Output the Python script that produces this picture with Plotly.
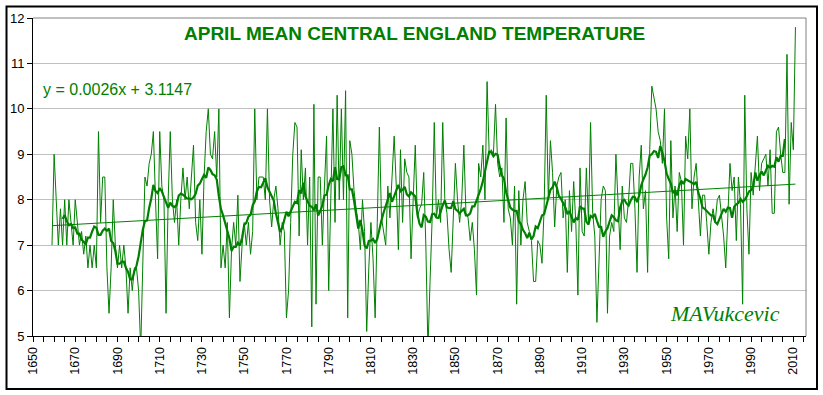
import pandas as pd
import plotly.graph_objects as go

# ---------------- data ----------------
START_YEAR = 1659
APRIL_TEMP = [
    7.0,                                                   # 1659
    9.0, 8.0, 7.0, 7.8, 7.0, 8.0, 7.0, 8.0, 7.5, 7.0,      # 1660s
    8.0, 7.5, 7.0, 7.3, 6.8, 7.2, 6.5, 7.0, 6.5, 7.0,      # 1670s
    6.5, 9.5, 7.5, 8.5, 8.5, 6.5, 5.5, 6.5, 8.0, 7.0,      # 1680s
    6.5, 7.0, 6.5, 7.0, 6.5, 5.5, 6.5, 6.0, 6.5, 6.5,      # 1690s
    6.0, 4.7, 7.0, 8.5, 8.3, 8.8, 9.0, 9.5, 8.0, 6.7,      # 1700s
    9.5, 8.3, 8.0, 5.5, 8.0, 9.5, 8.0, 7.5, 8.0, 7.0,      # 1710s
    8.0, 8.7, 8.0, 8.5, 7.8, 8.5, 9.2, 7.5, 7.1, 8.0,      # 1720s
    6.8, 8.5, 9.5, 10.0, 9.0, 8.9, 9.5, 8.5, 10.0, 6.5,    # 1730s
    7.0, 6.5, 7.5, 5.4, 6.9, 7.5, 7.0, 8.1, 6.2, 7.0,      # 1740s
    7.5, 7.0, 7.5, 6.8, 7.3, 10.0, 8.0, 8.5, 8.5, 8.5,     # 1750s
    8.0, 10.0, 8.0, 7.4, 8.0, 8.3, 7.8, 7.0, 7.5, 7.3,     # 1760s
    5.4, 6.0, 7.5, 9.0, 9.7, 9.6, 7.2, 9.1, 8.0, 8.7,      # 1770s
    7.0, 8.5, 5.2, 10.1, 5.7, 8.5, 8.5, 7.0, 8.3, 9.4,     # 1780s
    6.0, 8.0, 10.0, 7.5, 10.3, 8.0, 10.0, 8.0, 10.4, 5.4,  # 1790s
    9.3, 9.0, 8.2, 7.8, 7.5, 6.9, 8.0, 7.3, 5.1, 6.5,      # 1800s
    7.5, 6.7, 5.4, 7.5, 9.6, 7.6, 7.3, 7.0, 8.3, 7.6,      # 1810s
    8.5, 9.4, 8.3, 6.9, 9.1, 7.5, 8.9, 8.6, 8.5, 6.7,      # 1820s
    8.0, 9.2, 7.6, 7.8, 7.9, 8.6, 7.0, 4.7, 6.2, 7.6,      # 1830s
    9.7, 7.6, 8.0, 7.5, 9.7, 8.0, 7.7, 6.9, 6.4, 7.5,      # 1840s
    8.8, 8.0, 7.5, 8.0, 9.2, 7.7, 7.6, 7.1, 7.5, 6.9,      # 1850s
    5.9, 8.8, 8.5, 9.2, 8.0, 10.6, 9.0, 9.1, 9.0, 10.1,    # 1860s
    8.8, 8.5, 8.7, 7.5, 9.8, 7.8, 7.6, 7.0, 8.3, 5.7,      # 1870s
    8.2, 7.0, 8.0, 8.4, 7.5, 7.3, 7.1, 6.2, 6.2, 7.1,      # 1880s
    7.0, 6.6, 7.8, 10.3, 8.0, 9.3, 8.6, 7.4, 8.3, 8.5,     # 1890s
    8.6, 7.6, 8.0, 6.4, 8.2, 7.3, 8.4, 7.5, 5.9, 8.7,      # 1900s
    7.3, 7.2, 8.7, 7.5, 9.7, 7.7, 7.2, 5.3, 6.8, 8.0,      # 1910s
    8.3, 8.2, 5.5, 7.2, 7.5, 7.3, 9.0, 8.0, 6.9, 8.3,      # 1920s
    7.6, 7.5, 8.0, 8.8, 8.8, 7.8, 6.4, 8.5, 9.2, 7.8,      # 1930s
    8.2, 6.4, 9.1, 10.5, 10.2, 10.0, 9.5, 9.3, 8.8, 10.0,  # 1940s
    7.6, 6.7, 9.3, 7.6, 8.3, 7.3, 8.6, 8.4, 7.0, 9.4,      # 1950s
    8.9, 10.0, 7.8, 8.5, 8.8, 8.0, 7.2, 8.1, 8.1, 7.5,     # 1960s
    6.8, 7.5, 7.8, 7.5, 8.0, 8.1, 7.6, 7.2, 6.5, 7.6,      # 1970s
    8.8, 8.2, 8.5, 7.1, 8.5, 7.9, 5.7, 10.3, 7.8, 6.8,     # 1980s
    8.6, 8.1, 8.7, 9.4, 8.2, 8.8, 8.9, 9.0, 8.3, 9.1,      # 1990s
    7.7, 7.7, 9.5, 9.6, 9.0, 8.6, 8.6, 11.2, 7.9, 9.7,     # 2000s
    9.1, 11.8,                                             # 2010s
]
YEARS = list(range(START_YEAR, START_YEAR + len(APRIL_TEMP)))

MA_WINDOW = 11                      # centred running mean (thick line)
TREND_SLOPE = 0.0026                # linear trend shown on the chart
TREND_INTERCEPT = 3.1147

TITLE = "APRIL MEAN CENTRAL ENGLAND TEMPERATURE"
EQUATION = "y = 0.0026x + 3.1147"
SIGNATURE = "MAVukcevic"

X_RANGE = [1650, 2016]
Y_RANGE = [5, 12]

# ---------------- derived series ----------------
moving_avg = pd.Series(APRIL_TEMP).rolling(MA_WINDOW, center=True).mean().tolist()
trend = [TREND_SLOPE * y + TREND_INTERCEPT for y in YEARS]

GREEN = "#008000"
FONT = "Liberation Sans, Arial, sans-serif"

fig = go.Figure()
fig.add_trace(go.Scatter(x=YEARS, y=APRIL_TEMP, mode="lines",
                         line=dict(color=GREEN, width=1), hoverinfo="skip"))
fig.add_trace(go.Scatter(x=YEARS, y=trend, mode="lines",
                         line=dict(color=GREEN, width=1), hoverinfo="skip"))
fig.add_trace(go.Scatter(x=YEARS, y=moving_avg, mode="lines",
                         line=dict(color=GREEN, width=2.2), hoverinfo="skip"))

L, R, T, B = 33, 17, 18, 59
W, H = 823, 395
pw, ph = W - L - R, H - T - B


def px_x(px):
    return (px - L) / pw


def px_y(py):
    return (H - B - py) / ph


fig.update_layout(
    width=W, height=H,
    margin=dict(l=L, r=R, t=T, b=B, pad=0),
    paper_bgcolor="white", plot_bgcolor="white",
    showlegend=False,
    font=dict(family=FONT, color="black"),
    xaxis=dict(
        range=X_RANGE, tickmode="linear", tick0=1650, dtick=20,
        ticks="outside", ticklen=5, tickcolor="black", tickwidth=1,
        showline=True, linecolor="black", linewidth=1,
        showgrid=False, zeroline=False, tickangle=-90,
        tickfont=dict(size=12.5, family=FONT, color="black"),
        minor=dict(tick0=1650, dtick=5, ticks="outside", ticklen=5,
                   tickcolor="black", tickwidth=1, showgrid=False),
        automargin=False,
    ),
    yaxis=dict(
        range=Y_RANGE, tickmode="linear", tick0=5, dtick=1,
        ticks="outside", ticklen=5, tickcolor="black", tickwidth=1,
        showline=True, linecolor="black", linewidth=1,
        showgrid=True, gridcolor="#c0c0c0", gridwidth=1, zeroline=False,
        tickfont=dict(size=13, family=FONT, color="black"),
        automargin=False,
    ),
    shapes=[
        # grey top and right edges of the plot area
        dict(type="line", xref="paper", yref="paper", x0=0, x1=1, y0=1, y1=1,
             line=dict(color="#808080", width=1)),
        dict(type="line", xref="paper", yref="paper", x0=1, x1=1, y0=0, y1=1,
             line=dict(color="#808080", width=1)),
        # outer frame of the chart
        dict(type="rect", xref="paper", yref="paper",
             x0=px_x(6.5), x1=px_x(817), y0=px_y(389), y1=px_y(6.5),
             line=dict(color="black", width=2), fillcolor="rgba(0,0,0,0)"),
    ],
    annotations=[
        dict(text="<b>" + TITLE + "</b>", xref="paper", yref="paper",
             x=px_x(414), y=px_y(33), xanchor="center", yanchor="middle",
             showarrow=False, font=dict(size=19, color=GREEN, family=FONT)),
        dict(text=EQUATION, xref="paper", yref="paper",
             x=px_x(41), y=px_y(90), xanchor="left", yanchor="middle",
             showarrow=False, font=dict(size=16, color=GREEN, family=FONT)),
        dict(text="<i>" + SIGNATURE + "</i>", xref="paper", yref="paper",
             x=px_x(725), y=px_y(313), xanchor="center", yanchor="middle",
             showarrow=False,
             font=dict(size=22, color=GREEN, family="Liberation Serif, serif")),
    ],
)

fig.write_html(
    "out.html",
    config={"displayModeBar": False},
    post_script="document.body.style.margin='0px';document.body.style.padding='0px';",
)
